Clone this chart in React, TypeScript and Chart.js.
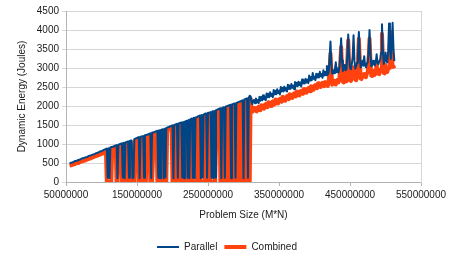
import { useEffect, useRef } from "react";
import { Chart, registerables } from "chart.js";

Chart.register(...registerables);

// Problem size (M*N), in millions
const problemSizesM = [
  55, 57.5, 60, 62.5, 65, 67.5, 70, 72.5, 75, 77.5,
  80, 82.5, 85, 87.5, 90, 92.5, 95, 97.5, 100, 102.5,
  105, 106.25, 107.5, 108.75, 110, 111.25, 112.5, 113.75,
  115, 116.25, 117.5, 118.75, 120, 121.25, 122.5, 123.75,
  125, 126.25, 127.5, 128.75, 130, 131.25, 132.5, 133.75,
  135, 136.25, 137.5, 138.75, 140, 141.25, 142.5, 143.75,
  145, 146.25, 147.5, 148.75, 150, 151.25, 152.5, 153.75,
  155, 156.25, 157.5, 158.75, 160, 161.25, 162.5, 163.75,
  165, 166.25, 167.5, 168.75, 170, 171.25, 172.5, 173.75,
  175, 176.25, 177.5, 178.75, 180, 181.25, 182.5, 183.75,
  185, 186.25, 187.5, 188.75, 190, 191.25, 192.5, 193.75,
  195, 196.25, 197.5, 198.75, 200, 201.25, 202.5, 203.75,
  205, 206.25, 207.5, 208.75, 210, 211.25, 212.5, 213.75,
  215, 216.25, 217.5, 218.75, 220, 221.25, 222.5, 223.75,
  225, 226.25, 227.5, 228.75, 230, 231.25, 232.5, 233.75,
  235, 236.25, 237.5, 238.75, 240, 241.25, 242.5, 243.75,
  245, 246.25, 247.5, 248.75, 250, 251.25, 252.5, 253.75,
  255, 256.25, 257.5, 258.75, 260, 261.25, 262.5, 263.75,
  265, 266.25, 267.5, 268.75, 270, 271.25, 272.5, 273.75,
  275, 276.25, 277.5, 278.75, 280, 281.25, 282.5, 283.75,
  285, 286.25, 287.5, 288.75, 290, 291.25, 292.5, 293.75,
  295, 296.25, 297.5, 298.75, 300, 301.25, 302.5, 303.75,
  305, 306.25, 307.5, 308.75, 310, 311.25, 312.5, 313.75,
  315, 316.25, 317.5, 318.75, 320, 321.25, 322.5, 323.75,
  325, 326.25, 327.5, 328.75, 330, 331.25, 332.5, 333.75,
  335, 336.25, 337.5, 338.75, 340, 341.25, 342.5, 343.75,
  345, 346.25, 347.5, 348.75, 350, 351.25, 352.5, 353.75,
  355, 356.25, 357.5, 358.75, 360, 361.25, 362.5, 363.75,
  365, 366.25, 367.5, 368.75, 370, 371.25, 372.5, 373.75,
  375, 376.25, 377.5, 378.75, 380, 381.25, 382.5, 383.75,
  385, 386.25, 387.5, 388.75, 390, 391.25, 392.5, 393.75,
  395, 396.25, 397.5, 398.75, 400, 401.25, 402.5, 403.75,
  405, 406.25, 407.5, 408.75, 410, 411.25, 412.5, 413.75,
  415, 416.25, 417.5, 418.75, 420, 421.25, 422.5, 423.75,
  425, 426.25, 427.5, 428.75, 430, 431.25, 432.5, 433.75,
  435, 436.25, 437.5, 438.75, 440, 441.25, 442.5, 443.75,
  445, 446.25, 447.5, 448.75, 450, 451.25, 452.5, 453.75,
  455, 456.25, 457.5, 458.75, 460, 461.25, 462.5, 463.75,
  465, 466.25, 467.5, 468.75, 470, 471.25, 472.5, 473.75,
  475, 476.25, 477.5, 478.75, 480, 481.25, 482.5, 483.75,
  485, 486.25, 487.5, 488.75, 490, 491.25, 492.5, 493.75,
  495, 496.25, 497.5, 498.75, 500, 501.25, 502.5, 503.75,
  505, 506.25, 507.5, 508.75, 510, 511.25, 512.5,
];

// Dynamic energy (Joules)
const parallelJoules = [
  490, 510, 520, 550, 560, 580, 590, 620, 630, 650,
  660, 690, 700, 720, 730, 760, 770, 800, 810, 840,
  860, 870, 880, 110, 890, 100, 910, 920,
  920, 930, 940, 950, 960, 970, 100, 980,
  990, 1000, 1010, 1020, 120, 1030, 100, 1040,
  1050, 1060, 1070, 110, 1080, 1090, 1095, 100,
  120, 1130, 1140, 1150, 1160, 1170, 1180, 100,
  1190, 1195, 1200, 1210, 110, 1230, 1235, 1240,
  1250, 1260, 1270, 1280, 100, 1300, 1305, 1310,
  1320, 1330, 1340, 1350, 110, 1360, 100, 1370,
  1380, 1390, 100, 1400, 120, 1420, 1430, 1440,
  1450, 1460, 1470, 1480, 1490, 100, 1500, 1510,
  1520, 1530, 110, 1540, 1550, 1560, 1565, 120,
  1580, 100, 1590, 1600, 1610, 110, 1630, 100,
  1650, 1660, 1670, 110, 1690, 100, 1700, 1705,
  1710, 1730, 1740, 1750, 100, 1760, 120, 1770,
  1790, 1800, 1805, 110, 1820, 1825, 1830, 1840,
  110, 1860, 100, 1870, 120, 1890, 1900, 1910,
  1920, 1930, 1940, 100, 1950, 1960, 1965, 110,
  1985, 1990, 2000, 2010, 2020, 2030, 100, 2040,
  2050, 2060, 2065, 110, 2080, 2090, 2100, 2110,
  2120, 2130, 2140, 2150, 100, 2170, 2180, 2190,
  2200, 110, 2220, 2270, 2250, 2100, 2050, 2150,
  2160, 2070, 2200, 2100, 2160, 2070, 2240, 2140,
  2240, 2150, 2280, 2180, 2240, 2150, 2330, 2230,
  2320, 2230, 2360, 2260, 2320, 2230, 2420, 2300,
  2400, 2310, 2440, 2340, 2400, 2300, 2500, 2380,
  2480, 2380, 2510, 2410, 2470, 2380, 2560, 2450,
  2540, 2450, 2580, 2480, 2540, 2440, 2630, 2520,
  2610, 2520, 2640, 2550, 2620, 2510, 2700, 2590,
  2680, 2590, 2720, 2620, 2690, 2600, 2800, 2670,
  2760, 2680, 2870, 2720, 2770, 2680, 2850, 2750,
  2840, 2750, 2900, 2780, 2840, 2740, 2940, 2800,
  2900, 2810, 3050, 2830, 2890, 3250, 3700, 3100,
  2850, 2940, 2860, 2970, 3150, 2890, 2990, 2880,
  3000, 3300, 3780, 3200, 2920, 3010, 3080, 2940,
  2960, 3350, 3880, 3300, 3000, 2970, 3090, 3300,
  3860, 3200, 2980, 3060, 3140, 3400, 3950, 3350,
  3010, 3100, 3190, 3060, 3310, 3070, 3020, 3120,
  3150, 3450, 4000, 3400, 3045, 3080, 3190, 3100,
  3070, 3150, 3360, 3140, 3100, 3180, 3220, 3400,
  4150, 3500, 3110, 3160, 3410, 3200, 3145, 3450,
  4170, 3500, 3240, 3600, 4190, 3500, 3180,
];

const combinedJoules = [
  430, 440, 460, 470, 500, 500, 530, 540, 560, 570,
  600, 610, 630, 650, 670, 680, 700, 720, 740, 760,
  790, 800, 0, 0, 0, 0, 0, 0,
  860, 870, 880, 890, 900, 0, 0, 920,
  930, 940, 950, 0, 0, 0, 0, 0,
  990, 1000, 0, 0, 0, 1030, 0, 0,
  0, 0, 1080, 1090, 1100, 1110, 0, 0,
  0, 0, 1140, 0, 0, 0, 0, 1180,
  1190, 1200, 1210, 0, 0, 0, 0, 1250,
  1260, 1270, 1280, 0, 0, 0, 0, 0,
  1320, 0, 0, 0, 0, 0, 1370, 1380,
  1390, 1400, 1410, 1420, 0, 0, 0, 1450,
  1460, 0, 0, 0, 0, 1500, 0, 0,
  0, 0, 0, 1540, 0, 0, 0, 0,
  0, 1600, 0, 0, 0, 0, 0, 0,
  1650, 1660, 1670, 0, 0, 0, 0, 0,
  0, 1740, 0, 0, 0, 0, 1770, 0,
  0, 0, 0, 0, 0, 0, 1840, 1850,
  1860, 1870, 0, 0, 0, 1900, 0, 0,
  0, 0, 1940, 1950, 1960, 0, 0, 0,
  0, 2000, 0, 0, 0, 0, 2040, 2050,
  0, 0, 2080, 0, 0, 0, 2120, 2130,
  0, 0, 0, 0, 2200, 1900, 1850, 1880,
  1950, 1940, 1870, 1860, 1950, 1980, 1900, 1890,
  2020, 2010, 1940, 1930, 2030, 2050, 1990, 1970,
  2100, 2090, 2010, 2000, 2100, 2120, 2060, 2040,
  2170, 2160, 2080, 2070, 2170, 2190, 2130, 2110,
  2240, 2230, 2150, 2140, 2240, 2260, 2200, 2180,
  2310, 2300, 2220, 2210, 2310, 2330, 2270, 2250,
  2380, 2370, 2290, 2280, 2380, 2400, 2340, 2320,
  2450, 2440, 2360, 2350, 2450, 2470, 2410, 2390,
  2520, 2510, 2440, 2430, 2530, 2550, 2490, 2470,
  2600, 2590, 2510, 2500, 2590, 2610, 2540, 2520,
  2630, 2620, 2540, 2530, 2620, 2950, 3380, 2900,
  2560, 2650, 2660, 2580, 2570, 2670, 2690, 2620,
  2700, 3100, 3550, 3050, 2640, 2620, 2730, 2710,
  2650, 3200, 3730, 3150, 2680, 2660, 2770, 2760,
  3020, 2800, 2690, 2680, 2800, 3250, 3770, 3200,
  2720, 2710, 2820, 2830, 2840, 2780, 2760, 2850,
  2900, 3250, 3775, 3200, 2800, 2790, 2920, 2900,
  2820, 2880, 3080, 2870, 2850, 2840, 2960, 2950,
  3900, 3300, 2870, 2860, 3080, 2950, 2895, 2980,
  3000, 3400, 3950, 3300, 3060, 3040, 2990,
];

const seriesLabels = ["Parallel", "Combined"];
const xMin = 50000000;
const xMax = 550000000;
const xStep = 100000000;
const yMin = 0;
const yMax = 4500;
const yStep = 500;

export default function App() {
  const ref = useRef<HTMLCanvasElement>(null);

  useEffect(() => {
    document.body.style.margin = "0";
    const family = "'Liberation Sans', Arial, sans-serif";
    const textColor = "#1a1a1a";
    const toPts = (arr: number[]) =>
      arr.map((y, i) => ({ x: problemSizesM[i] * 1000000, y }));

    const chart = new Chart(ref.current as HTMLCanvasElement, {
      type: "line",
      data: {
        datasets: [
          {
            label: seriesLabels[0],
            data: toPts(parallelJoules),
            borderColor: "#004586",
            backgroundColor: "#004586",
            borderWidth: 2,
            borderJoinStyle: "round",
            pointRadius: 0,
            tension: 0,
          },
          {
            label: seriesLabels[1],
            data: toPts(combinedJoules),
            borderColor: "#ff420e",
            backgroundColor: "#ff420e",
            borderWidth: 4,
            borderJoinStyle: "round",
            pointRadius: 0,
            tension: 0,
          },
        ],
      },
      options: {
        animation: false,
        responsive: false,
        events: [],
        layout: { padding: { left: 8, right: 8, top: 11, bottom: -7 } },
        plugins: {
          legend: {
            position: "bottom",
            labels: {
              usePointStyle: true,
              pointStyle: "line",
              pointStyleWidth: 22,
              boxWidth: 22,
              padding: 7,
              font: { family, size: 10 },
              color: textColor,
            },
          },
          tooltip: { enabled: false },
        },
        scales: {
          x: {
            type: "linear",
            min: xMin,
            max: xMax,
            ticks: {
              stepSize: xStep,
              autoSkip: false,
              maxRotation: 0,
              padding: 3,
              font: { family, size: 10 },
              color: textColor,
              callback: (v: any) => String(v),
            },
            grid: { drawOnChartArea: false, tickLength: 4, color: "#b3b3b3" },
            border: { color: "#b3b3b3" },
            title: {
              display: true,
              text: "Problem Size (M*N)",
              font: { family, size: 10 },
              color: textColor,
              padding: { top: 4, bottom: 14 },
            },
            afterFit: (s: any) => {
              s.height = 53;
            },
          },
          y: {
            min: yMin,
            max: yMax,
            ticks: {
              stepSize: yStep,
              padding: 3,
              font: { family, size: 10 },
              color: textColor,
              callback: (v: any) => String(v),
            },
            grid: { color: "#d6d6d6", tickLength: 4 },
            border: { color: "#b3b3b3" },
            title: {
              display: true,
              text: "Dynamic Energy (Joules)",
              font: { family, size: 10 },
              color: textColor,
              padding: { top: 8, bottom: 4 },
            },
            afterFit: (s: any) => {
              s.width = 58;
            },
          },
          yRight: {
            position: "right",
            min: 0,
            max: 1,
            ticks: { display: false },
            grid: { display: false, drawTicks: false },
            border: { display: true, color: "#d6d6d6" },
            afterFit: (s: any) => {
              s.width = 25;
            },
          },
        },
      } as any,
    });
    return () => chart.destroy();
  }, []);

  return (
    <div style={{ width: 454, height: 255 }}>
      <canvas ref={ref} width={454} height={255} />
    </div>
  );
}
